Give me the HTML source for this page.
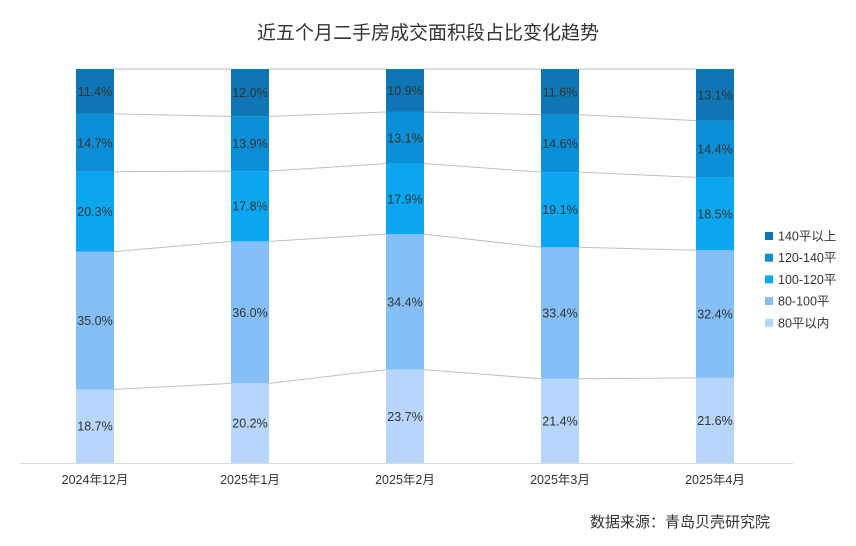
<!DOCTYPE html>
<html><head><meta charset="utf-8"><style>
body{margin:0;background:#fff;}
svg{display:block;font-family:"Liberation Sans","Noto Sans CJK SC",sans-serif;}
</style></head><body>
<svg id="s" width="856" height="546" viewBox="0 0 856 546">
<rect width="856" height="546" fill="#fff"/>
<text x="428" y="39" text-anchor="middle" font-size="19" fill="#333">近五个月二手房成交面积段占比变化趋势</text>
<line x1="20" y1="463.5" x2="793" y2="463.5" stroke="#d9d9d9" stroke-width="1"/>
<text x="770" y="527" text-anchor="end" font-size="15" fill="#333">数据来源：青岛贝壳研究院</text>
</svg>
<script>
(function(){
var s=document.getElementById('s'),NS='http://www.w3.org/2000/svg';
function el(t,a,txt){var e=document.createElementNS(NS,t);for(var k in a)e.setAttribute(k,a[k]);if(txt)e.textContent=txt;s.appendChild(e);return e;}
var data=[[18.7,35.0,20.3,14.7,11.4],[20.2,36.0,17.8,13.9,12.0],[23.7,34.4,17.9,13.1,10.9],[21.4,33.4,19.1,14.6,11.6],[21.6,32.4,18.5,14.4,13.1]];
var cols=['#b6d6fb','#84bff8','#0aa7f0','#0b8ed6','#0e76b4'];
var labs=['2024年12月','2025年1月','2025年2月','2025年3月','2025年4月'];
var yTop=69,bot=463,H=bot-yTop,w=38;
var tops=[];
data.forEach(function(d,i){
 var cx=95+i*155,x=cx-w/2,sum=d.reduce(function(a,b){return a+b}),y=bot,t=[];
 d.forEach(function(v,j){var h=v/sum*H;el('rect',{x:x,y:y-h,width:w,height:h,fill:cols[j]});
  el('text',{x:cx,y:y-h/2+4.5,'text-anchor':'middle','font-size':'12.5',fill:'#333'},v.toFixed(1)+'%');y-=h;t.push(y);});
 tops.push(t);
 el('text',{x:cx,y:484,'text-anchor':'middle','font-size':'12.5',fill:'#333'},labs[i]);
});
for(var i=0;i<4;i++)for(var j=0;j<5;j++){
 el('line',{x1:95+i*155+w/2,y1:tops[i][j],x2:95+(i+1)*155-w/2,y2:tops[i+1][j],stroke:'#bfbfbf','stroke-width':1});
}
var ln=['140平以上','120-140平','100-120平','80-100平','80平以内'];
ln.forEach(function(n,k){var y=236+k*21.7;el('rect',{x:765,y:y-4,width:8,height:8,fill:cols[4-k]});
 el('text',{x:778,y:y+4.5,'font-size':'12.5',fill:'#333'},n);});
})();
</script>
</body></html>
